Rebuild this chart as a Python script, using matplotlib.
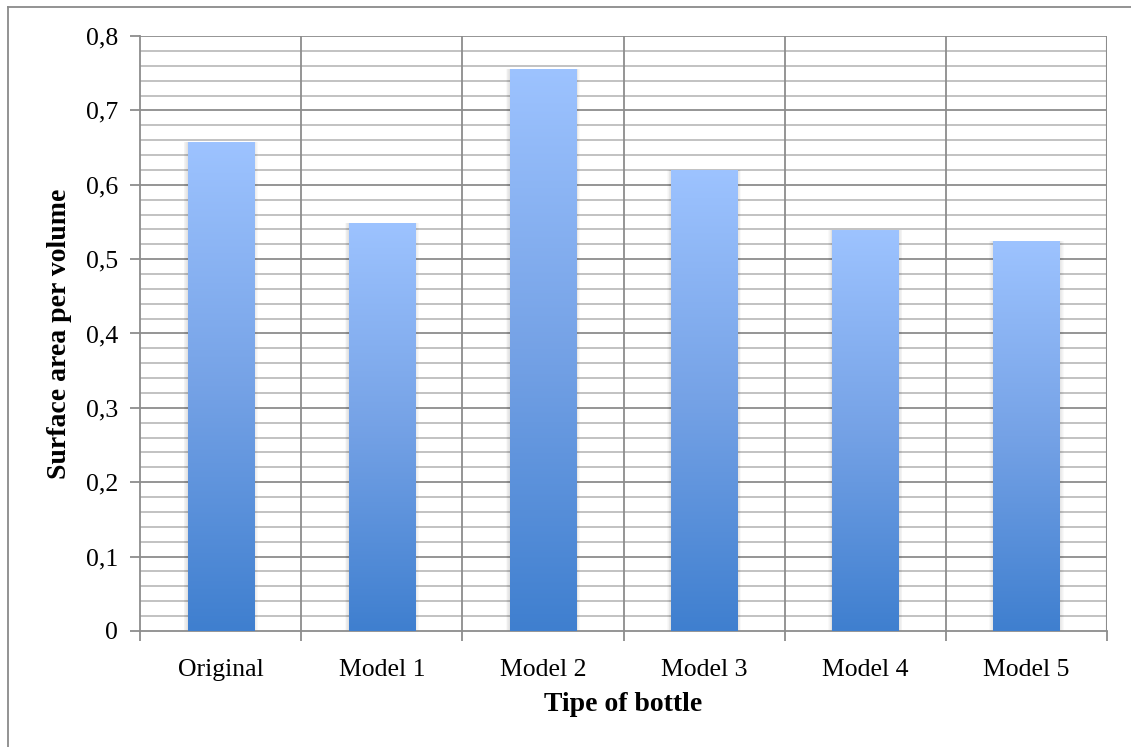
import numpy as np
import matplotlib.pyplot as plt
from matplotlib.colors import LinearSegmentedColormap
from matplotlib.lines import Line2D
from matplotlib.patches import Rectangle

# bottle types and their surface area / volume ratio
bottles = ["Original", "Model 1", "Model 2", "Model 3", "Model 4", "Model 5"]
ratio = [0.657, 0.549, 0.756, 0.620, 0.539, 0.524]
y_ticks = [0, 0.1, 0.2, 0.3, 0.4, 0.5, 0.6, 0.7, 0.8]
y_labels = ["0", "0,1", "0,2", "0,3", "0,4", "0,5", "0,6", "0,7", "0,8"]

plt.rcParams["font.family"] = ["Liberation Serif", "DejaVu Serif"]

fig = plt.figure(figsize=(11.31, 7.47), dpi=100)
ax = fig.add_axes([0.1238, 0.1553, 0.855, 0.7965])

# frame around the chart (only top/left edges show)
fig.add_artist(Line2D([0.0075, 1.0], [0.9906, 0.9906], color="#8a8a8a", lw=1.3))
fig.add_artist(Line2D([0.0075, 0.0075], [0.0, 0.9906], color="#8a8a8a", lw=1.3))

x = np.arange(len(bottles))
width = 0.41
grad = LinearSegmentedColormap.from_list("bar", ["#3f7fcf", "#75a2e6", "#9dc3ff"])
g = np.linspace(0, 1, 256).reshape(-1, 1)

for xi, v in zip(x, ratio):
    left = xi - width / 2
    # soft shadow
    for k in range(1, 6):
        pad = 0.005 * k
        ax.add_patch(Rectangle((left - pad, -0.004 * k), width + 2 * pad, v + 0.004 * k,
                               facecolor="black", alpha=0.025, lw=0, zorder=2))
    rect = Rectangle((left, 0), width, v, facecolor="none", lw=0, zorder=3)
    ax.add_patch(rect)
    im = ax.imshow(g, cmap=grad, origin="lower", aspect="auto",
                   extent=[left, left + width, 0, v], zorder=3)
    im.set_clip_path(rect)

ax.set_xlim(-0.5, len(bottles) - 0.5)
ax.set_ylim(0, 0.8)

# gridlines
for yv in np.arange(0.02, 0.8, 0.02):
    major = abs(yv * 10 - round(yv * 10)) < 1e-6
    ax.axhline(yv, color="#8c8c8c" if major else "#bdbdbd", lw=1.3, zorder=1)
ax.axhline(0.8, color="#8c8c8c", lw=1.3, zorder=1)
for xb in np.arange(0.5, len(bottles) - 0.5, 1):
    ax.axvline(xb, color="#8c8c8c", lw=1.3, zorder=1)

for s in ["top", "right"]:
    ax.spines[s].set_visible(False)
ax.axvline(len(bottles) - 0.5, color="#8c8c8c", lw=1.5, zorder=1)
ax.spines["left"].set_color("#8c8c8c")
ax.spines["bottom"].set_color("#8c8c8c")
ax.spines["left"].set_linewidth(1.3)
ax.spines["bottom"].set_linewidth(1.3)

ax.set_yticks(y_ticks)
ax.set_yticklabels(y_labels, fontsize=18.5)
ax.set_xticks(np.arange(-0.5, len(bottles), 1))
ax.set_xticklabels([])
ax.set_xticks(x, minor=True)
ax.set_xticklabels(bottles, minor=True, fontsize=18.5)
ax.tick_params(axis="y", length=7, width=1.3, color="#8c8c8c", pad=9)
ax.tick_params(axis="x", which="major", length=7, width=1.3, color="#8c8c8c")
ax.tick_params(axis="x", which="minor", length=0, pad=20)

ax.set_ylabel("Surface area per volume", fontsize=20, fontweight="bold", labelpad=10)
ax.set_xlabel("Tipe of bottle", fontsize=20, fontweight="bold", labelpad=8)

fig.savefig("out.png", dpi=100)
